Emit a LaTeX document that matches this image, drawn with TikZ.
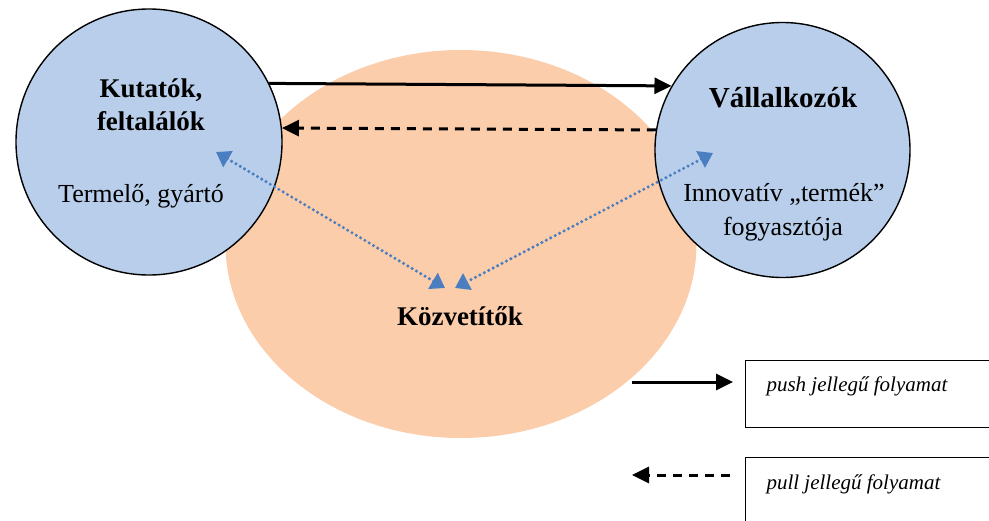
\documentclass[tikz,border=0pt]{standalone}
\usepackage{fontspec}
\setmainfont{Liberation Serif}
\usetikzlibrary{shapes.geometric,arrows.meta}
\definecolor{circblue}{RGB}{184,206,234}
\definecolor{peach}{RGB}{251,205,170}
\definecolor{dotblue}{RGB}{74,126,193}
\begin{document}
\begin{tikzpicture}[x=1pt,y=-1pt,
  actor/.style={circle,draw=black,line width=1.4pt,fill=circblue,inner sep=0pt},
  pusharrow/.style={line width=3pt,-{Triangle[length=17pt,width=16pt]}},
  pullarrow/.style={line width=3pt,dash pattern=on 9pt off 7pt,-{Triangle[length=17pt,width=16pt]}},
  linkarrow/.style={dotblue,line width=3.4pt,line cap=round,dash pattern=on 0pt off 5pt,
     {Triangle[length=14pt,width=18pt]}-{Triangle[length=14pt,width=18pt]}},
  boldlbl/.style={font=\fontsize{27}{32}\selectfont\bfseries,anchor=base},
  plainlbl/.style={font=\fontsize{26}{30}\selectfont,anchor=base},
  legendlbl/.style={font=\fontsize{21}{25}\selectfont\itshape,anchor=base west},
  legendbox/.style={draw=black,line width=1pt}]
\useasboundingbox (0,0) rectangle (989,520);
\clip (0,0) rectangle (989,520);
% central ellipse
\node[ellipse,fill=peach,minimum width=471pt,minimum height=388pt,inner sep=0pt] (mid) at (461,244) {};
% circles
\node[actor,minimum size=266pt] (L) at (149,142) {};
\node[actor,minimum size=255pt] (R) at (782.5,150) {};
% texts
\node[boldlbl] (Lt1) at (151,97) {Kutatók,};
\node[boldlbl] (Lt2) at (151,130) {feltalálók};
\node[plainlbl] (Lb) at (141,202) {Termelő, gyártó};
\node[boldlbl,font=\fontsize{29}{34}\selectfont\bfseries] (Rt) at (783,107) {Vállalkozók};
\node[plainlbl] (Rb1) at (784,201) {Innovatív „termék”};
\node[plainlbl] (Rb2) at (783,235) {fogyasztója};
\node[boldlbl] (Mt) at (460,325) {Közvetítők};
% push / pull arrows between circles
\draw[pusharrow] (L.26) -- (R.150);
\draw[pullarrow] (R.171) -- (L.6);
% dotted links
\coordinate (lu) at (216,152);
\coordinate (ld) at (445,288);
\coordinate (ru) at (713,153);
\coordinate (rd) at (455,288);
\draw[linkarrow] (lu) -- (ld);
\draw[linkarrow] (ru) -- (rd);
% legend
\node[legendbox,minimum width=260pt,minimum height=67pt,anchor=north west,inner sep=0pt] (box1) at (745,360) {};
\node[legendbox,minimum width=260pt,minimum height=80pt,anchor=north west,inner sep=0pt] (box2) at (745,457) {};
\node[legendlbl] (push) at (763,391) {push jellegű folyamat};
\node[legendlbl] (pull) at (763,489) {pull jellegű folyamat};
\coordinate (ps) at (632,382);
\coordinate (pe) at (733,382);
\coordinate (qs) at (730,475);
\coordinate (qe) at (632,475);
\draw[pusharrow] (ps) -- (pe);
\draw[pullarrow] (qs) -- (qe);
\end{tikzpicture}
\end{document}
